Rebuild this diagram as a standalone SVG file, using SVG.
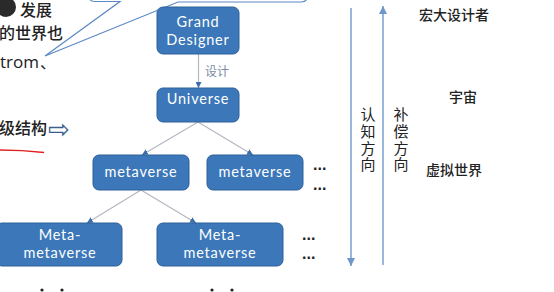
<svg xmlns="http://www.w3.org/2000/svg" width="554" height="292" viewBox="0 0 554 292">
<defs>
<style>
.box{fill:#3b77b9;stroke:#2e6199;stroke-width:1}
.bt{font-family:Lato,"Open Sans",sans-serif;font-size:14.5px;letter-spacing:0.8px;fill:#ffffff;text-anchor:middle}
.cn{font-family:"Noto Sans CJK SC",sans-serif;fill:#222222}
.vt{font-family:"Noto Sans CJK SC",sans-serif;fill:#222222;font-size:15px;writing-mode:vertical-rl;letter-spacing:1.7px}
.con{stroke:#b4b8c0;stroke-width:1.2;fill:none}
.dir{stroke:#7fa6d3;stroke-width:1.6;fill:none}
.dots{font-family:"Liberation Sans",sans-serif;font-size:16px;font-weight:bold;fill:#222}
</style>
<marker id="ah" viewBox="0 0 10 10" refX="10" refY="5" markerWidth="6" markerHeight="6" markerUnits="userSpaceOnUse" orient="auto">
<path d="M0,0 L10,5 L0,10 z" fill="#3a6ea8"/>
</marker>
<marker id="ahd" viewBox="0 0 10 10" refX="10" refY="5" markerWidth="8" markerHeight="8" markerUnits="userSpaceOnUse" orient="auto">
<path d="M0,0 L10,5 L0,10 z" fill="#6d97c8"/>
</marker>
</defs>
<rect width="554" height="292" fill="#ffffff"/>

<g id="left-text">
<circle cx="6" cy="7" r="10" fill="#2a2a2a"/>
<text class="cn" x="20" y="16" font-size="16" font-weight="500">发展</text>
<text class="cn" x="-1" y="39" font-size="16" font-weight="500">的世界也</text>
<text x="0" y="68" font-family="Open Sans,sans-serif" font-size="17" fill="#222">trom</text>
<text class="cn" x="40" y="68" font-size="16">、</text>
<text class="cn" x="-1" y="134" font-size="16" font-weight="500">级结构</text>
<text x="48" y="138" font-family="DejaVu Sans,sans-serif" font-size="26" fill="#3a5f8f">⇨</text>
<path d="M0,150 Q22,150 44,152.5" stroke="#e02020" stroke-width="1.6" fill="none"/>
</g>

<g id="callout">
<path d="M88,-6 Q88,1.5 95,1.5 L120,1.5 L45,56 L178,2 L301,2 Q308,2 308,-6" fill="#ffffff" stroke="#5b89c4" stroke-width="1.2"/>
</g>

<g id="connectors">
<line class="con" x1="198.5" y1="54" x2="198.5" y2="88" marker-end="url(#ah)"/>
<line class="con" x1="198" y1="122" x2="142" y2="155" marker-end="url(#ah)"/>
<line class="con" x1="198" y1="122" x2="253" y2="155" marker-end="url(#ah)"/>
<line class="con" x1="141" y1="190" x2="87" y2="223" marker-end="url(#ah)"/>
<line class="con" x1="141" y1="190" x2="196" y2="223" marker-end="url(#ah)"/>
<text x="205" y="76" font-family="Noto Sans CJK SC,sans-serif" font-size="12" fill="#7d8ca3">设计</text>
</g>

<g id="grand-designer">
<rect class="box" x="157" y="7" width="82" height="47" rx="6"/>
<text class="bt" x="198" y="27">Grand<tspan x="198" dy="17.5">Designer</tspan></text>
</g>
<g id="universe">
<rect class="box" x="157" y="88" width="82" height="34" rx="6"/>
<text class="bt" x="198" y="104">Universe</text>
</g>
<g id="metaverse-1">
<rect class="box" x="93" y="155" width="96" height="35" rx="6"/>
<text class="bt" x="141" y="177">metaverse</text>
</g>
<g id="metaverse-2">
<rect class="box" x="207" y="155" width="96" height="35" rx="6"/>
<text class="bt" x="255" y="177">metaverse</text>
</g>
<g id="meta-metaverse-1">
<rect class="box" x="-4" y="223" width="126" height="43" rx="6"/>
<text class="bt" x="60" y="240">Meta-<tspan x="60" dy="18">metaverse</tspan></text>
</g>
<g id="meta-metaverse-2">
<rect class="box" x="157" y="223" width="126" height="43" rx="6"/>
<text class="bt" x="220" y="240">Meta-<tspan x="220" dy="18">metaverse</tspan></text>
</g>

<g id="ellipses">
<text class="dots" x="313" y="170">...</text>
<text class="dots" x="313" y="190">...</text>
<text class="dots" x="302" y="240">...</text>
<text class="dots" x="302" y="259">...</text>
<circle cx="42" cy="290" r="1.6" fill="#222"/>
<circle cx="62" cy="290" r="1.6" fill="#222"/>
<circle cx="212" cy="290" r="1.6" fill="#222"/>
<circle cx="232" cy="290" r="1.6" fill="#222"/>
</g>

<g id="direction-arrows">
<line class="dir" x1="351" y1="8" x2="351" y2="266" marker-end="url(#ahd)"/>
<line class="dir" x1="383" y1="265" x2="383" y2="6" marker-end="url(#ahd)"/>
<text class="vt" x="368" y="107">认知方向</text>
<text class="vt" x="401" y="107">补偿方向</text>
</g>

<g id="right-labels" class="cn" font-size="14" font-weight="500">
<text x="419" y="20">宏大设计者</text>
<text x="449" y="102">宇宙</text>
<text x="426" y="175">虚拟世界</text>
</g>
</svg>
